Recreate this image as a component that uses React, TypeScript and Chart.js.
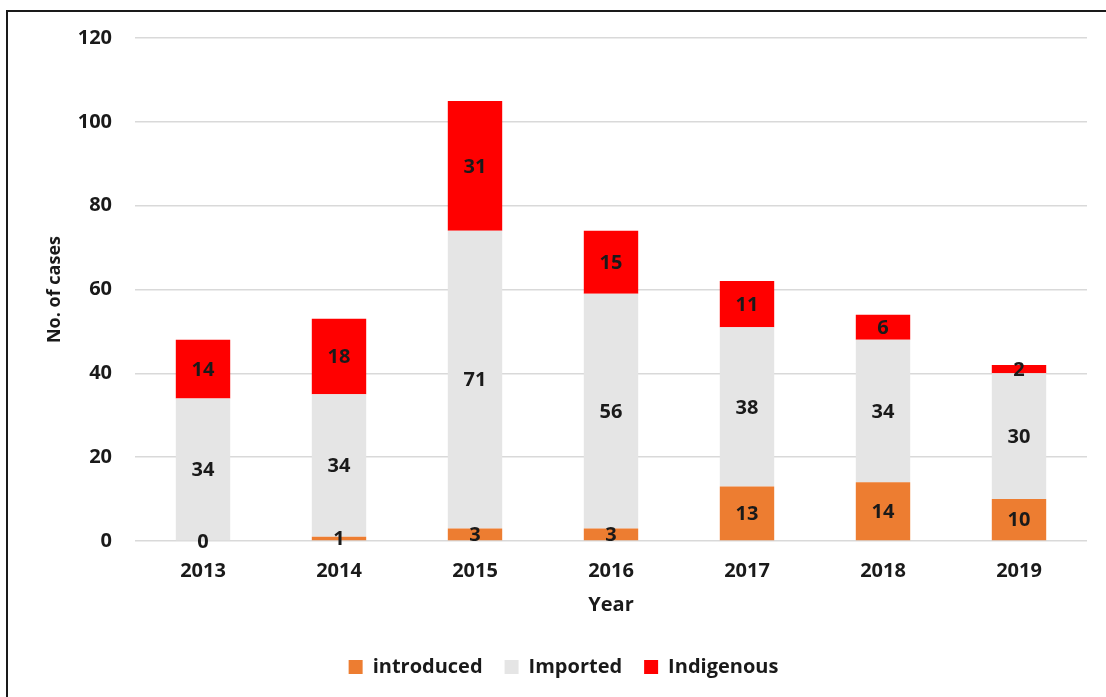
import React, { useEffect, useRef } from "react";
import { Chart, registerables } from "chart.js";

Chart.register(...registerables);

const years = ["2013", "2014", "2015", "2016", "2017", "2018", "2019"];
const introduced = [0, 1, 3, 3, 13, 14, 10];
const imported = [34, 34, 71, 56, 38, 34, 30];
const indigenous = [14, 18, 31, 15, 11, 6, 2];
const yTicks = [0, 20, 40, 60, 80, 100, 120];

const FONT = "'Open Sans', sans-serif";

const framePlugin = {
  id: "frame",
  afterDraw(chart: any) {
    const ctx = chart.ctx;
    ctx.save();
    ctx.strokeStyle = "#1a1a1a";
    ctx.lineWidth = 2;
    ctx.beginPath();
    ctx.moveTo(7, 697);
    ctx.lineTo(7, 11);
    ctx.lineTo(1106, 11);
    ctx.stroke();
    ctx.restore();
  },
};

const labelPlugin = {
  id: "segLabels",
  afterDatasetsDraw(chart: any) {
    const ctx = chart.ctx;
    ctx.save();
    ctx.font = `bold 20px ${FONT}`;
    ctx.fillStyle = "#1a1a1a";
    ctx.textAlign = "center";
    ctx.textBaseline = "middle";
    chart.data.datasets.forEach((ds: any, di: number) => {
      const meta = chart.getDatasetMeta(di);
      meta.data.forEach((bar: any, i: number) => {
        const v = ds.data[i];
        const yc = (bar.y + bar.base) / 2;
        ctx.fillText(String(v), bar.x, yc + 1);
      });
    });
    ctx.restore();
  },
};

export default function App() {
  const ref = useRef<HTMLCanvasElement>(null);
  useEffect(() => {
    if (!ref.current) return;
    const chart = new Chart(ref.current, {
      type: "bar",
      data: {
        labels: years,
        datasets: [
          { label: "introduced", data: introduced, backgroundColor: "#ED7D31" },
          { label: "Imported", data: imported, backgroundColor: "#E5E5E5" },
          { label: "Indigenous", data: indigenous, backgroundColor: "#FF0000" },
        ],
      },
      options: {
        responsive: false,
        animation: false,
        devicePixelRatio: 1,
        layout: { padding: { left: 40, right: 19, top: 38, bottom: 10 } },
        datasets: { bar: { barPercentage: 0.4, categoryPercentage: 1 } },
        scales: {
          x: {
            stacked: true,
            afterFit: (s: any) => { s.height = 94; },
            grid: { display: false, drawTicks: false },
            border: { display: false },
            ticks: { color: "#1a1a1a", font: { family: FONT, size: 20, weight: "bold" }, padding: 18 },
            title: { display: true, text: "Year", color: "#1a1a1a", font: { family: FONT, size: 20, weight: "bold" }, padding: { top: 4, bottom: 18 } },
          },
          y: {
            stacked: true,
            min: 0,
            max: 120,
            afterBuildTicks: (s: any) => { s.ticks = yTicks.map((v) => ({ value: v })); },
            afterFit: (s: any) => { s.width = 95; },
            grid: { color: "#D9D9D9", lineWidth: 1.5, drawTicks: false },
            border: { display: false },
            ticks: { color: "#1a1a1a", font: { family: FONT, size: 20, weight: "bold" }, padding: 23 },
            title: { display: true, text: "No. of cases", color: "#1a1a1a", font: { family: FONT, size: 18, weight: "bold" }, padding: { top: 4, bottom: 0 } },
          },
        },
        plugins: {
          legend: {
            position: "bottom",
            labels: { color: "#1a1a1a", font: { family: FONT, size: 20, weight: "bold" }, boxWidth: 14, boxHeight: 14, padding: 22 },
          },
          tooltip: { enabled: false },
        },
      },
      plugins: [labelPlugin, framePlugin],
    });
    return () => chart.destroy();
  }, []);
  return (
    <div style={{ position: "fixed", left: 0, top: 0, width: 1106, height: 697, background: "#fff" }}>
      <canvas ref={ref} width={1106} height={697} style={{ display: "block" }} />
    </div>
  );
}
